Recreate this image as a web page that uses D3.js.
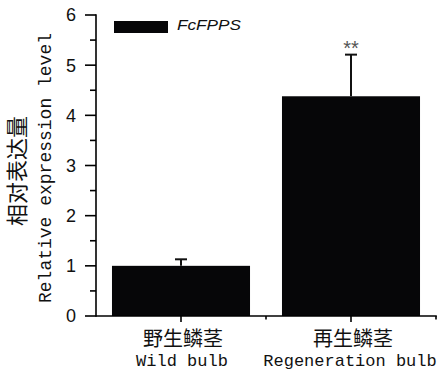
<!DOCTYPE html>
<html><head><meta charset="utf-8">
<script src="https://cdn.jsdelivr.net/npm/d3@7"></script>
<style>body{margin:0;background:#fff}svg{display:block}</style>
</head><body>
<script>
const categoriesCN = ["野生鳞茎", "再生鳞茎"];
const categoriesEN = ["Wild bulb", "Regeneration bulb"];
const values = [1.0, 4.38];
const errors = [0.13, 0.83];
const significance = ["", "**"];
const yTicks = [0, 1, 2, 3, 4, 5, 6];
const legendLabel = "FcFPPS";

const W = 444, H = 377;
const svg = d3.select("body").append("svg").attr("width", W).attr("height", H);
const x = d3.scaleBand().domain(categoriesEN).range([96, 436]).paddingInner(0.188).paddingOuter(0.094);
const y = d3.scaleLinear().domain([0, 6]).range([316, 15]);

// bars
svg.selectAll("rect.bar").data(values).enter().append("rect")
  .attr("x", (d, i) => x(categoriesEN[i])).attr("width", x.bandwidth())
  .attr("y", d => y(d)).attr("height", d => y(0) - y(d)).attr("fill", "#060608");

// error bars
const eg = svg.append("g").attr("stroke", "#111").attr("stroke-width", 2);
values.forEach((v, i) => {
  const cx = x(categoriesEN[i]) + x.bandwidth() / 2;
  eg.append("line").attr("x1", cx).attr("x2", cx).attr("y1", y(v)).attr("y2", y(v + errors[i]));
  eg.append("line").attr("x1", cx - 6).attr("x2", cx + 6).attr("y1", y(v + errors[i])).attr("y2", y(v + errors[i]));
  if (significance[i]) svg.append("text").attr("x", cx).attr("y", y(v + errors[i]) + 0.5)
    .attr("text-anchor", "middle").attr("font-family", "Liberation Sans, Arial").attr("font-size", 20)
    .attr("fill", "#555").text(significance[i]);
});

// y axis
const ax = svg.append("g").attr("stroke", "#000").attr("stroke-width", 1.6);
ax.append("line").attr("x1", 96).attr("x2", 96).attr("y1", y(6) - 0.8).attr("y2", y(0) + 0.8);
d3.range(0, 6.01, 0.5).forEach(t => {
  const major = Math.abs(t - Math.round(t)) < 1e-6;
  ax.append("line").attr("x1", major ? 85 : 90).attr("x2", 96).attr("y1", y(t)).attr("y2", y(t));
});
svg.selectAll("text.yt").data(yTicks).enter().append("text")
  .attr("x", 76).attr("y", d => y(d)).attr("dy", "0.36em").attr("text-anchor", "end")
  .attr("font-family", "Liberation Sans, Arial").attr("font-size", 18).attr("fill", "#111").text(d => d);

// x axis
ax.append("line").attr("x1", 96).attr("x2", 436.8).attr("y1", 316).attr("y2", 316);
categoriesEN.forEach((c, i) => {
  const cx = x(c) + x.bandwidth() / 2;
  ax.append("line").attr("x1", cx).attr("x2", cx).attr("y1", 316).attr("y2", 322);
});
[x.step() + 96, 436].forEach(bx => {
  ax.append("line").attr("x1", bx).attr("x2", bx).attr("y1", 316).attr("y2", 319.5);
});
categoriesCN.forEach((c, i) => {
  const cx = x(categoriesEN[i]) + x.bandwidth() / 2 + 2;
  svg.append("text").attr("x", cx).attr("y", 339).attr("dy", "0.36em").attr("text-anchor", "middle")
    .attr("font-family", "Noto Sans CJK SC").attr("font-size", 20).attr("fill", "#111").text(c);
  svg.append("text").attr("x", i === 0 ? cx - 1 : cx - 3).attr("y", 360).attr("dy", "0.36em").attr("text-anchor", "middle")
    .attr("font-family", "Liberation Mono, DejaVu Sans Mono, monospace").attr("font-size", 17).attr("fill", "#111")
    .text(categoriesEN[i]);
});

// y title
svg.append("text").attr("transform", "translate(17,171) rotate(-90)").attr("dy", "0.36em")
  .attr("text-anchor", "middle").attr("font-family", "Noto Sans CJK SC").attr("font-size", 22)
  .attr("fill", "#111").text("相对表达量");
svg.append("text").attr("transform", "translate(45,168) rotate(-90)").attr("dy", "0.36em")
  .attr("text-anchor", "middle").attr("font-family", "Liberation Mono, DejaVu Sans Mono, monospace").attr("font-size", 18)
  .attr("fill", "#111").text("Relative expression level");

// legend
svg.append("rect").attr("x", 114).attr("y", 21).attr("width", 54).attr("height", 12).attr("fill", "#060608");
svg.append("text").attr("x", 177).attr("y", 30).attr("font-family", "Liberation Sans, Arial")
  .attr("font-style", "italic").attr("font-size", 14.5).attr("textLength", 64).attr("lengthAdjust", "spacingAndGlyphs")
  .attr("fill", "#111").text(legendLabel);
</script>
</body></html>
